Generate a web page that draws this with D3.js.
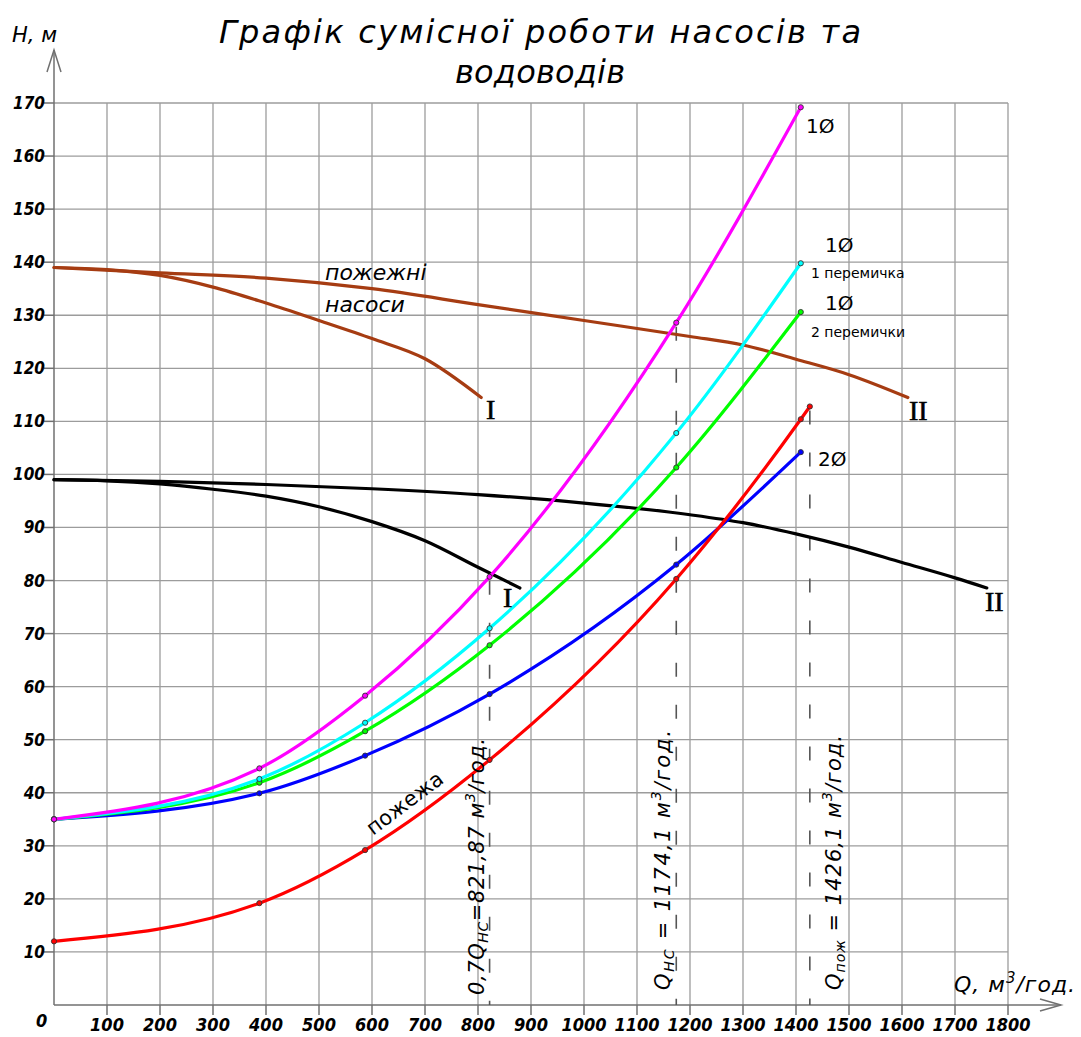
<!DOCTYPE html>
<html>
<head>
<meta charset="utf-8">
<title>Графік сумісної роботи насосів та водоводів</title>
<style>
  body { margin: 0; background: #fff; }
  svg { display: block; }
  .it { font-family: "DejaVu Sans", sans-serif; font-style: italic; }
  .tick { font-family: "DejaVu Sans Condensed", "DejaVu Sans", sans-serif; font-style: italic; font-weight: bold; }
  .up { font-family: "DejaVu Sans", sans-serif; }
  .roman { font-family: "Liberation Serif", "DejaVu Serif", serif; }
</style>
</head>
<body>
<svg id="chart"></svg>
<script src="https://cdn.jsdelivr.net/npm/d3@7/dist/d3.min.js"></script>
<script>
// tick values
var xTicks = [100, 200, 300, 400, 500, 600, 700, 800, 900, 1000, 1100, 1200, 1300, 1400, 1500, 1600, 1700, 1800];
var yTicks = [10, 20, 30, 40, 50, 60, 70, 80, 90, 100, 110, 120, 130, 140, 150, 160, 170];

// pipeline characteristics (Q, м3/год -> H, м)
var qSys = [0, 387.5, 587, 821.87, 1174.1, 1409];
var h1Pipe = [35, 44.6, 58.3, 80.7, 128.6, 169.2];      // 1 водовід
var h1Jumper = [35, 42.6, 53.2, 71.0, 107.8, 139.8];    // 1 водовід, 1 перемичка
var h2Jumpers = [35, 41.9, 51.6, 67.8, 101.3, 130.6];   // 1 водовід, 2 перемички
var h2Pipes = [35, 39.9, 47.0, 58.6, 83.0, 104.2];      // 2 водоводи
var qFire = [0, 387.5, 587, 821.87, 1174.1, 1409, 1426.1];
var hFire = [12, 19.2, 29.2, 46.2, 80.3, 110.4, 112.8]; // пожежа

// pump characteristics
var qPumpI = [0, 100, 200, 300, 400, 500, 600, 700, 800, 879];
var hPumpI = [99, 98.8, 98.2, 97.2, 95.9, 93.9, 91.1, 87.5, 82.5, 78.6];
var qPumpII = [0, 200, 400, 600, 800, 1000, 1200, 1300, 1400, 1500, 1600, 1700, 1760];
var hPumpII = [99, 98.7, 98.1, 97.3, 96.2, 94.6, 92.4, 90.9, 88.8, 86.3, 83.4, 80.5, 78.6];
var qFirePumpI = [0, 100, 200, 300, 400, 500, 600, 700, 806];
var hFirePumpI = [139, 138.6, 137.5, 135.3, 132.3, 129, 125.6, 121.8, 114.5];
var qFirePumpII = [0, 200, 400, 600, 800, 1000, 1200, 1300, 1400, 1500, 1611];
var hFirePumpII = [139, 138, 137, 135, 132, 129, 126, 124.4, 121.7, 118.8, 114.5];

// marked flows
var qMarks = [821.87, 1174.1, 1426.1];
var hMarkTops = [h1Pipe[3], h1Pipe[4], hFire[6]];

var width = 1081, height = 1037;
var svg = d3.select("#chart").attr("width", width).attr("height", height);

var x = d3.scaleLinear().domain([0, 1800]).range([54, 1008]);
var y = d3.scaleLinear().domain([0, 170]).range([1005, 103]);

// grid
var grid = svg.append("g").attr("stroke", "#9c9c9c").attr("stroke-width", 1.3);
grid.selectAll(".gx").data(xTicks).enter().append("line")
    .attr("x1", function(d) { return x(d); }).attr("x2", function(d) { return x(d); })
    .attr("y1", y(0)).attr("y2", y(170));
grid.selectAll(".gy").data(yTicks).enter().append("line")
    .attr("x1", x(0)).attr("x2", x(1800))
    .attr("y1", function(d) { return y(d); }).attr("y2", function(d) { return y(d); });

// axes with arrows
var ax = svg.append("g").attr("stroke", "#707070").attr("stroke-width", 1.5).attr("fill", "none");
ax.append("line").attr("x1", x(0)).attr("x2", x(0)).attr("y1", y(0)).attr("y2", 50);
ax.append("path").attr("d", "M" + (x(0) - 7) + ",72L" + x(0) + ",50L" + (x(0) + 7) + ",72");
ax.append("line").attr("x1", x(0)).attr("x2", 1061).attr("y1", y(0)).attr("y2", y(0));
ax.append("path").attr("d", "M1040," + (y(0) - 6) + "L1061," + y(0) + "L1040," + (y(0) + 6));
ax.selectAll(".ty").data(yTicks).enter().append("line")
    .attr("x1", x(0) - 10).attr("x2", x(0))
    .attr("y1", function(d) { return y(d); }).attr("y2", function(d) { return y(d); });
ax.selectAll(".tx").data(xTicks).enter().append("line")
    .attr("x1", function(d) { return x(d); }).attr("x2", function(d) { return x(d); })
    .attr("y1", y(0)).attr("y2", y(0) + 10);

// tick labels
svg.append("g").selectAll("text").data(yTicks).enter().append("text")
    .attr("class", "tick").attr("font-size", 17).attr("text-anchor", "end")
    .attr("x", x(0) - 9).attr("y", function(d) { return y(d) + 6; })
    .text(function(d) { return d; });
svg.append("g").selectAll("text").data(xTicks).enter().append("text")
    .attr("class", "tick").attr("font-size", 18).attr("text-anchor", "middle")
    .attr("x", function(d) { return x(d); }).attr("y", 1031)
    .text(function(d) { return d; });
svg.append("text").attr("class", "tick").attr("font-size", 18)
    .attr("x", 36).attr("y", 1027).text("0");

// dashed marks
svg.append("g").selectAll("line").data(qMarks).enter().append("line")
    .attr("x1", function(d) { return x(d); }).attr("x2", function(d) { return x(d); })
    .attr("y1", function(d, i) { return y(hMarkTops[i]) + 4; }).attr("y2", y(0))
    .attr("stroke", "#555").attr("stroke-width", 1.6).attr("stroke-dasharray", "14,28");

// curves
function drawCurve(qs, hs, color) {
    var line = d3.line()
        .x(function(d) { return x(d[0]); })
        .y(function(d) { return y(d[1]); })
        .curve(d3.curveMonotoneX);
    svg.append("path").datum(d3.zip(qs, hs))
        .attr("d", line).attr("fill", "none")
        .attr("stroke", color).attr("stroke-width", 3.2)
        .attr("stroke-linecap", "round");
}
function drawDots(qs, hs, color) {
    svg.append("g").selectAll("circle").data(d3.zip(qs, hs)).enter().append("circle")
        .attr("cx", function(d) { return x(d[0]); }).attr("cy", function(d) { return y(d[1]); })
        .attr("r", 2.6).attr("fill", color).attr("stroke", "#333").attr("stroke-width", 0.9);
}

var brown = "#a63c12";
drawCurve(qFirePumpI, hFirePumpI, brown);
drawCurve(qFirePumpII, hFirePumpII, brown);
drawCurve(qPumpI, hPumpI, "#000");
drawCurve(qPumpII, hPumpII, "#000");

drawCurve(qSys, h2Pipes, "#0000ff");
drawCurve(qFire, hFire, "#ff0000");
drawCurve(qSys, h2Jumpers, "#00ff00");
drawCurve(qSys, h1Jumper, "#00ffff");
drawCurve(qSys, h1Pipe, "#ff00ff");
drawDots(qSys, h2Pipes, "#0000ff");
drawDots(qFire, hFire, "#ff0000");
drawDots(qSys, h2Jumpers, "#00ff00");
drawDots(qSys, h1Jumper, "#00ffff");
drawDots(qSys, h1Pipe, "#ff00ff");

// title and axis names
svg.append("text").attr("class", "it").attr("font-size", 32).attr("text-anchor", "middle")
    .attr("x", 540).attr("y", 43).attr("textLength", 642).attr("lengthAdjust", "spacing")
    .text("Графік сумісної роботи насосів та");
svg.append("text").attr("class", "it").attr("font-size", 32).attr("text-anchor", "middle")
    .attr("x", 540).attr("y", 83).attr("textLength", 170).attr("lengthAdjust", "spacing")
    .text("водоводів");
svg.append("text").attr("class", "it").attr("font-size", 21)
    .attr("x", 12).attr("y", 42).text("Н, м");

var qLab = svg.append("text").attr("class", "it").attr("font-size", 22)
    .attr("x", 954).attr("y", 992).attr("letter-spacing", 1);
qLab.append("tspan").text("Q, м");
qLab.append("tspan").attr("font-size", 15).attr("dy", -9).text("3");
qLab.append("tspan").attr("dy", 9).text("/год.");

// rotated flow labels
function flowLabel(bx, by, len, pre, sub, post) {
    var t = svg.append("text").attr("class", "it").attr("font-size", 21)
        .attr("transform", "translate(" + bx + "," + by + ") rotate(-90)")
        .attr("textLength", len).attr("lengthAdjust", "spacing");
    t.append("tspan").text(pre);
    t.append("tspan").attr("font-size", 14).attr("dy", 4).text(sub);
    t.append("tspan").attr("dy", -4).text(post);
    t.append("tspan").attr("font-size", 14).attr("dy", -9).text("3");
    t.append("tspan").attr("dy", 9).text("/год.");
}
flowLabel(484, 995, 257, "0,7Q", "НС", "=821,87 м");
flowLabel(670, 990, 260, "Q", "НС", " = 1174,1 м");
flowLabel(841, 990, 255, "Q", "пож", " = 1426,1 м");

// curve labels
svg.append("text").attr("class", "it").attr("font-size", 22).attr("x", 325).attr("y", 280).text("пожежні");
svg.append("text").attr("class", "it").attr("font-size", 22).attr("x", 325).attr("y", 312).text("насоси");
svg.append("text").attr("class", "up").attr("font-size", 21)
    .attr("transform", "translate(373,836) rotate(-37)").text("пожежа");

var d1 = [[806, 133, "1Ø"], [825, 252, "1Ø"], [825, 310, "1Ø"], [818, 466, "2Ø"]];
svg.append("g").selectAll("text").data(d1).enter().append("text")
    .attr("class", "up").attr("font-size", 20)
    .attr("x", function(d) { return d[0]; }).attr("y", function(d) { return d[1]; })
    .text(function(d) { return d[2]; });
svg.append("text").attr("class", "up").attr("font-size", 14).attr("x", 811).attr("y", 278).text("1 перемичка");
svg.append("text").attr("class", "up").attr("font-size", 14).attr("x", 811).attr("y", 337).text("2 перемички");

var roman = [[486, 419, "I"], [909, 420, "II"], [503, 607, "I"], [985, 611, "II"]];
svg.append("g").selectAll("text").data(roman).enter().append("text")
    .attr("class", "roman").attr("font-size", 28).attr("stroke", "#000").attr("stroke-width", 0.6)
    .attr("x", function(d) { return d[0]; }).attr("y", function(d) { return d[1]; })
    .text(function(d) { return d[2]; });
</script>
</body>
</html>
